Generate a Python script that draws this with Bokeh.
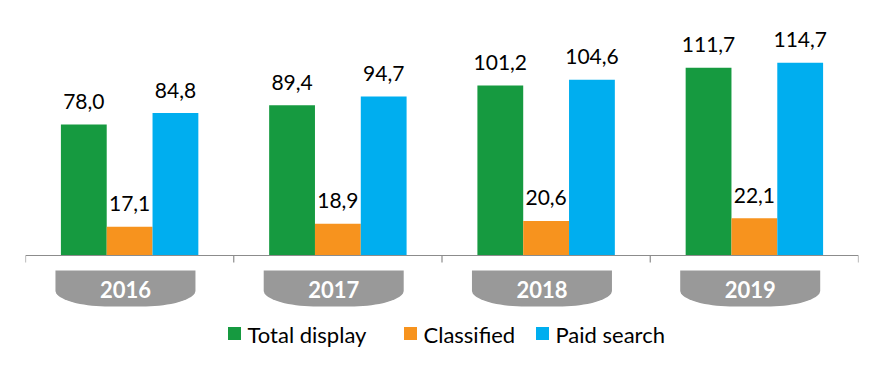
import numpy as np
from bokeh.plotting import figure
from bokeh.models import Range1d, ColumnDataSource
from bokeh.core.properties import value
from bokeh.embed import file_html
from bokeh.resources import INLINE

# ---- data ----
years = ["2016", "2017", "2018", "2019"]
series = ["Total display", "Classified", "Paid search"]
total_display = [78.0, 89.4, 101.2, 111.7]
classified = [17.1, 18.9, 20.6, 22.1]
paid_search = [84.8, 94.7, 104.6, 114.7]
colors = ["#169A40", "#F7931E", "#00AEEF"]

# ---- layout constants (pixels from the figure's top-left) ----
W, H = 870, 353
LEFT, RIGHT = 25, 12
BASE_PY = 255          # baseline pixel from top
KY = 1.68              # px per unit
KX = (W - LEFT - RIGHT) / len(years)

def px_x(px):
    return -0.5 + (px - LEFT) / KX

def px_y(py):
    return (BASE_PY - py) / KY

p = figure(width=W, height=H, output_backend="svg", toolbar_location=None,
           x_range=Range1d(-0.5, len(years) - 0.5),
           y_range=Range1d(px_y(H), px_y(0)),
           x_axis_type=None, y_axis_type=None,
           min_border_left=LEFT, min_border_right=RIGHT,
           min_border_top=0, min_border_bottom=0)
p.outline_line_color = None
p.background_fill_color = "white"

xi = np.arange(len(years))
vals = [total_display, classified, paid_search]
offsets = [-0.22, 0.0, 0.22]
bw = 0.22
FONT = "Lato"

for vs, off, c in zip(vals, offsets, colors):
    src = ColumnDataSource(dict(x=xi + off, top=vs,
                                lab=[f"{v:.1f}".replace(".", ",") for v in vs]))
    p.vbar(x="x", top="top", bottom=0, width=bw, source=src,
           fill_color=c, line_color=None)
    p.text(x="x", y="top", text="lab", source=src, y_offset=-23,
           text_align="center", text_baseline="alphabetic",
           text_font=value(FONT), text_font_size="21px", text_color="#000000")

# axis line and ticks
bounds = np.arange(len(years) + 1) - 0.5
p.segment(x0=[bounds[0]], y0=[0], x1=[bounds[-1]], y1=[0],
          line_color="#8C8C8C", line_width=1.2)
p.segment(x0=bounds, y0=np.zeros_like(bounds), x1=bounds,
          y1=np.full_like(bounds, -7 / KY), line_color="#8C8C8C", line_width=1.2)

# year tabs
tab_off = -0.02
hw = 70 / KX
rx = 54 / KX
y_top = px_y(270)
y_side = px_y(290)
y_bot = px_y(306)
ry = y_side - y_bot
t = np.linspace(0, np.pi / 2, 20)
xs, ys = [], []
for i in xi:
    cx = i + tab_off
    rcx = cx + hw - rx
    arc_r_x = rcx + rx * np.cos(t)
    arc_r_y = y_side - ry * np.sin(t)
    lcx = cx - hw + rx
    arc_l_x = lcx - rx * np.sin(t)
    arc_l_y = y_bot + ry * (1 - np.cos(t))
    xs.append([cx - hw, cx + hw] + list(arc_r_x) + list(arc_l_x))
    ys.append([y_top, y_top] + list(arc_r_y) + list(arc_l_y))
p.patches(xs=xs, ys=ys, fill_color="#999999", line_color=None)
p.text(x=xi + tab_off, y=[px_y(289)] * len(years), text=years,
       text_align="center", text_baseline="alphabetic",
       text_font=value(FONT), text_font_style="bold", text_font_size="22px",
       text_color="white")

# legend
sq_px = [234, 410, 542]
p.scatter(x=[px_x(v) for v in sq_px], y=[px_y(333)] * 3, marker="square",
          size=13, fill_color=colors, line_color=None)
p.text(x=[px_x(v + 13) for v in sq_px], y=[px_y(334)] * 3, text=series,
       text_align="left", text_baseline="alphabetic",
       text_font=value(FONT), text_font_size="22px", text_color="#000000")

open("out.html", "w").write(file_html(p, INLINE))
